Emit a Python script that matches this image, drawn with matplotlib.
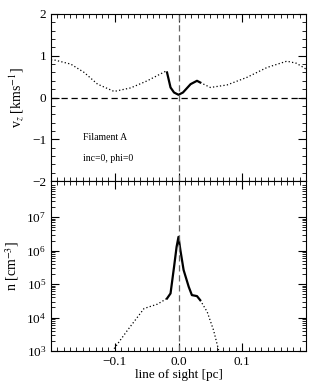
import matplotlib.pyplot as plt
from matplotlib.ticker import MultipleLocator, LogLocator, NullFormatter, FixedLocator
import numpy as np

plt.rcParams['font.family'] = ['Liberation Serif', 'DejaVu Serif']
plt.rcParams['mathtext.fontset'] = 'stix'

# top panel: velocity along line of sight
vx_left = [-0.200, -0.195, -0.169, -0.148, -0.127, -0.101, -0.075, -0.049, -0.020, -0.018]
vy_left = [0.90, 0.90, 0.80, 0.60, 0.32, 0.145, 0.23, 0.40, 0.63, 0.60]
vx_mid = [-0.018, -0.0125, -0.007, 0.0, 0.007, 0.019, 0.029, 0.034]
vy_mid = [0.60, 0.24, 0.12, 0.065, 0.12, 0.32, 0.40, 0.36]
vx_right = [0.034, 0.050, 0.076, 0.107, 0.139, 0.170, 0.185, 0.196, 0.200]
vy_right = [0.36, 0.24, 0.30, 0.48, 0.72, 0.87, 0.82, 0.72, 0.68]

# bottom panel: density (log10)
nx_left = [-0.101, -0.080, -0.070, -0.054, -0.033, -0.018]
nlog_left = [3.07, 3.62, 3.87, 4.27, 4.40, 4.57]
nx_mid = [-0.018, -0.0125, -0.007, -0.003, 0.0, 0.003, 0.008, 0.016, 0.021, 0.029, 0.034]
nlog_mid = [4.57, 4.72, 5.51, 6.11, 6.41, 6.01, 5.42, 4.92, 4.67, 4.64, 4.52]
nx_right = [0.034, 0.045, 0.055, 0.063]
nlog_right = [4.52, 4.17, 3.62, 3.02]

fig = plt.figure(figsize=(3.25, 3.91), dpi=100)
ax1 = fig.add_axes([51/325, 1-181/391, 255/325, 167/391])
ax2 = fig.add_axes([51/325, 1-351/391, 255/325, 170/391], sharex=ax1)

dot = (0, (1, 1.8))
ax1.plot(vx_left, vy_left, color='k', lw=0.9, ls=dot)
ax1.plot(vx_mid, vy_mid, color='k', lw=1.6)
ax1.plot(vx_right, vy_right, color='k', lw=0.9, ls=dot)
ax1.axhline(0, color='k', ls=(0, (5, 3)), lw=0.9)
ax1.axvline(0, color='0.4', ls=(0, (5, 3)), lw=0.9)
ax1.set_xlim(-0.2, 0.2)
ax1.set_ylim(-2, 2)
ax1.yaxis.set_major_locator(MultipleLocator(1))
ax1.yaxis.set_minor_locator(MultipleLocator(0.2))
ax1.set_ylabel('v$_z$ [kms$^{-1}$]', fontsize=10)
ax1.text(-0.15, -0.95, 'Filament A', fontsize=7, va='center')
ax1.text(-0.15, -1.46, 'inc=0, phi=0', fontsize=7, va='center')
plt.setp(ax1.get_xticklabels(), visible=False)

ax2.plot(nx_left, 10**np.array(nlog_left), color='k', lw=0.9, ls=dot)
ax2.plot(nx_mid, 10**np.array(nlog_mid), color='k', lw=1.6)
ax2.plot(nx_right, 10**np.array(nlog_right), color='k', lw=0.9, ls=dot)
ax2.axvline(0, color='0.4', ls=(0, (5, 3)), lw=0.9)
ax2.set_yscale('log')
ax2.set_ylim(1e3, 1.2e8)
ax2.yaxis.set_major_locator(FixedLocator([1e3, 1e4, 1e5, 1e6, 1e7]))
ax2.yaxis.set_minor_locator(LogLocator(base=10, subs=np.arange(2, 10)))
ax2.yaxis.set_minor_formatter(NullFormatter())
ax2.set_ylabel('n [cm$^{-3}$]', fontsize=10)
ax2.set_xlabel('line of sight [pc]', fontsize=9.5, labelpad=1)
ax2.xaxis.set_major_locator(FixedLocator([-0.1, 0.0, 0.1]))
ax2.xaxis.set_minor_locator(MultipleLocator(0.01))
ax2.set_xticklabels(['\u22120.1', '0.0', '0.1'])

for ax in (ax1, ax2):
    ax.tick_params(which='both', direction='in', top=True, right=True, labelsize=9.5)
    ax.tick_params(which='major', length=6, width=0.8)
    ax.tick_params(which='minor', length=3, width=0.6)

fig.savefig('out.png', dpi=100)
